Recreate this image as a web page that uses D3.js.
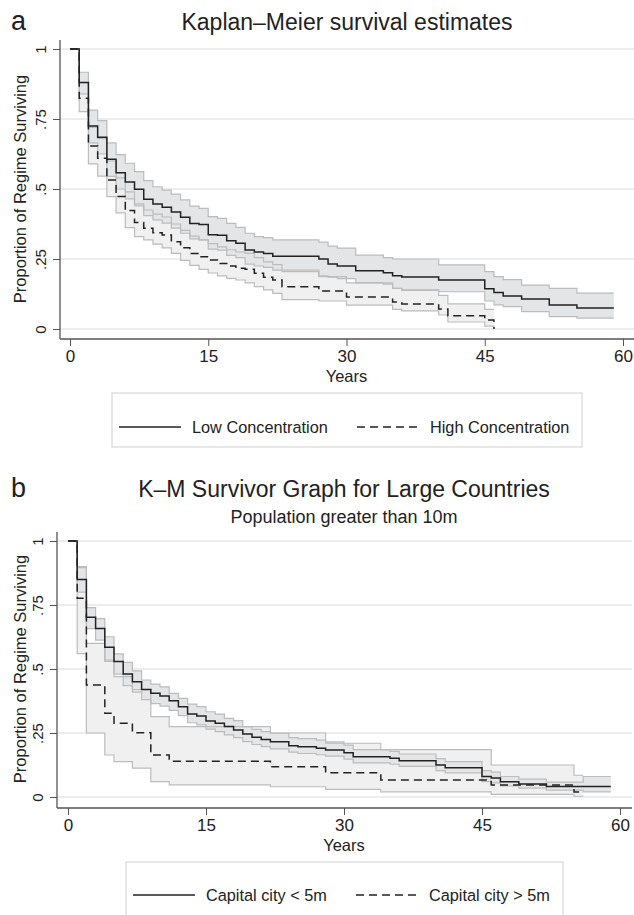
<!DOCTYPE html>
<html>
<head>
<meta charset="utf-8">
<script src="https://cdn.jsdelivr.net/npm/d3@7"></script>
<style>
  body { margin: 0; background: #fff; }
  text { font-family: "Liberation Sans", Arial, Helvetica, sans-serif; fill: #222; }
</style>
</head>
<body>
<script>
const W = 634, H = 915;

// ---- panel a : Kaplan-Meier, concentration ----
const aLowTime  = [0,1,2,3,4,5,6,7,8,9,10,11,12,13,14,15,16,17,18,19,20,21,22,27,28,29,31,34,35,36,40,45,46,47,49,52,55,59];
const aLowSurv  = [1,.88,.725,.685,.606,.558,.525,.499,.463,.446,.435,.418,.399,.377,.373,.337,.335,.315,.306,.282,.275,.27,.26,.25,.232,.225,.208,.201,.19,.186,.175,.144,.13,.118,.107,.086,.075,.075];
const aLowUpper = [1,.917,.782,.744,.665,.623,.592,.562,.53,.508,.496,.482,.461,.439,.431,.401,.395,.377,.363,.342,.33,.326,.318,.31,.296,.289,.264,.255,.25,.25,.229,.205,.187,.176,.157,.145,.128,.128];
const aLowLower = [1,.84,.665,.625,.545,.5,.465,.44,.405,.39,.378,.36,.342,.322,.318,.285,.282,.263,.255,.232,.225,.22,.21,.19,.185,.18,.165,.16,.145,.14,.133,.1,.086,.08,.062,.044,.039,.039];

const aHighTime  = [0,1,2,3,4,5,6,7,8,9,10,11,12,13,14,15,16,17,18,19,20,21,22,23,27,30,35,36,40,41,45,46];
const aHighSurv  = [1,.824,.654,.61,.532,.473,.423,.38,.36,.344,.336,.312,.29,.27,.258,.246,.234,.225,.217,.213,.199,.185,.175,.151,.136,.114,.096,.089,.071,.047,.032,0];
const aHighUpper = [1,.88,.72,.68,.6,.54,.49,.447,.425,.41,.4,.375,.352,.332,.318,.305,.293,.283,.275,.27,.255,.24,.23,.205,.187,.165,.145,.138,.12,.09,.07,.07];
const aHighLower = [1,.776,.59,.546,.473,.415,.362,.33,.318,.303,.29,.27,.245,.227,.213,.2,.19,.181,.175,.165,.151,.14,.127,.105,.1,.085,.07,.065,.05,.025,.01,0];

const aLegend = ["Low Concentration", "High Concentration"];

// ---- panel b : large countries ----
const bLowTime  = [0,1,2,3,4,5,6,7,8,9,10,11,12,13,14,15,16,17,18,19,20,21,22,24,25,27,28,30,31,35,36,40,41,45,46,47,49,52,56,59];
const bLowSurv  = [1,.85,.702,.658,.585,.529,.48,.45,.42,.405,.395,.376,.353,.324,.316,.297,.288,.275,.262,.246,.233,.225,.216,.2,.196,.19,.184,.173,.157,.151,.142,.125,.114,.08,.074,.06,.051,.041,.041,.041];
const bLowUpper = [1,.9,.74,.697,.626,.559,.526,.493,.457,.441,.43,.405,.385,.363,.353,.333,.324,.307,.298,.275,.264,.255,.249,.232,.228,.222,.215,.203,.185,.178,.168,.15,.138,.103,.097,.08,.07,.058,.08,.08];
const bLowLower = [1,.8,.658,.613,.535,.48,.435,.41,.38,.365,.355,.338,.318,.29,.282,.265,.255,.243,.232,.216,.205,.197,.188,.175,.17,.165,.16,.148,.133,.128,.12,.103,.094,.06,.055,.043,.035,.027,.02,.02];

const bHighTime  = [0,1,2,4,5,7,9,11,22,28,34,46,55,56];
const bHighSurv  = [1,.776,.4375,.327,.288,.251,.164,.14,.118,.095,.066,.047,.02,.02];
const bHighUpper = [1,.896,.6,.53,.47,.42,.314,.275,.25,.21,.185,.125,.085,.085];
const bHighLower = [1,.56,.25,.164,.138,.113,.06,.047,.04,.03,.02,.01,.003,.003];

const bLegend = ["Capital city < 5m", "Capital city > 5m"];

const xTicks = [0, 15, 30, 45, 60];
const yTicks = [0, .25, .5, .75, 1];

const svg = d3.select("body").append("svg")
  .attr("width", W)
  .attr("height", H);

function rows(t, s, u, l) {
  return t.map((d, i) => ({ t: d, s: s[i], u: u[i], l: l[i] }));
}

function fmtY(d) {
  if (d === 0) return "0";
  if (d === 1) return "1";
  return String(d).replace(/^0/, "");
}

function panel(p) {
  const x = d3.scaleLinear().domain([0, 60]).range([p.x0, p.x60]);
  const y = d3.scaleLinear().domain([0, 1]).range([p.y0, p.y1]);
  const g = svg.append("g");

  // grid
  g.selectAll(".grid").data(yTicks).enter().append("line")
    .attr("x1", p.axisX).attr("x2", p.right)
    .attr("y1", d => y(d)).attr("y2", d => y(d))
    .attr("stroke", "#dcdcdc").attr("stroke-width", 1.2);

  const area = d3.area().curve(d3.curveStepAfter)
    .x(d => x(d.t)).y0(d => y(d.l)).y1(d => y(d.u));
  const lineU = d3.line().curve(d3.curveStepAfter).x(d => x(d.t)).y(d => y(d.u));
  const lineL = d3.line().curve(d3.curveStepAfter).x(d => x(d.t)).y(d => y(d.l));
  const lineS = d3.line().curve(d3.curveStepAfter).x(d => x(d.t)).y(d => y(d.s));

  // bands: high first (light), low on top (darker)
  g.append("path").attr("d", area(p.high)).attr("fill", "#f0f0f0");
  g.append("path").attr("d", area(p.low)).attr("fill", "#e4e5e7");
  [p.high, p.low].forEach(r => {
    g.append("path").attr("d", lineU(r)).attr("fill", "none").attr("stroke", "#bcbcbc").attr("stroke-width", 1.2);
    g.append("path").attr("d", lineL(r)).attr("fill", "none").attr("stroke", "#bcbcbc").attr("stroke-width", 1.2);
  });

  g.append("path").attr("d", lineS(p.high)).attr("fill", "none")
    .attr("stroke", "#222").attr("stroke-width", 1.5).attr("stroke-dasharray", "8,5");
  g.append("path").attr("d", lineS(p.low)).attr("fill", "none")
    .attr("stroke", "#222").attr("stroke-width", 1.5);

  // axes
  g.append("line").attr("x1", p.axisX).attr("x2", p.axisX)
    .attr("y1", p.axisTop).attr("y2", p.axisY)
    .attr("stroke", "#555").attr("stroke-width", 1.3);
  g.append("line").attr("x1", p.axisX).attr("x2", p.right)
    .attr("y1", p.axisY).attr("y2", p.axisY)
    .attr("stroke", "#555").attr("stroke-width", 1.3);

  const ya = g.append("g").attr("transform", `translate(${p.axisX},0)`)
    .call(d3.axisLeft(y).tickValues(yTicks).tickSize(7).tickFormat(fmtY));
  ya.select(".domain").remove();
  ya.selectAll("line").attr("stroke", "#555");
  ya.selectAll("text")
    .attr("x", 0).attr("y", -14).attr("dy", 0)
    .attr("text-anchor", "middle")
    .attr("transform", "rotate(-90)")
    .style("font-size", "15px")
    .style("font-family", "'Liberation Sans', Arial, sans-serif")
    .attr("fill", "#222");

  const xa = g.append("g").attr("transform", `translate(0,${p.axisY})`)
    .call(d3.axisBottom(x).tickValues(xTicks).tickSize(7).tickPadding(4));
  xa.select(".domain").remove();
  xa.selectAll("line").attr("stroke", "#555");
  xa.selectAll("text")
    .style("font-size", "17px")
    .style("font-family", "'Liberation Sans', Arial, sans-serif")
    .attr("fill", "#222");

  g.append("text").attr("x", x(30)).attr("y", p.axisY + 43)
    .attr("text-anchor", "middle").style("font-size", "16.5px").text("Years");
  g.append("text")
    .attr("transform", `translate(26,${(p.y0 + p.y1) / 2}) rotate(-90)`)
    .attr("text-anchor", "middle").style("font-size", "16.5px")
    .text("Proportion of Regime Surviving");

  // titles
  g.append("text").attr("x", 11).attr("y", p.titleY)
    .style("font-size", "27px").text(p.letter);
  g.append("text").attr("x", p.titleX).attr("y", p.titleY)
    .attr("text-anchor", "middle").style("font-size", "23px").text(p.title);
  if (p.subtitle) {
    g.append("text").attr("x", p.titleX).attr("y", p.subY)
      .attr("text-anchor", "middle").style("font-size", "18px").text(p.subtitle);
  }

  // legend
  const lg = p.legend;
  g.append("rect").attr("x", lg.x).attr("y", lg.y).attr("width", lg.w).attr("height", lg.h)
    .attr("fill", "none").attr("stroke", "#d8d8d8").attr("stroke-width", 1.2);
  lg.items.forEach((name, i) => {
    const lx = lg.keyX[i];
    g.append("line").attr("x1", lx).attr("x2", lx + 62)
      .attr("y1", lg.cy).attr("y2", lg.cy)
      .attr("stroke", "#222").attr("stroke-width", 1.4)
      .attr("stroke-dasharray", i === 1 ? "8,5" : null);
    g.append("text").attr("x", lx + 73).attr("y", lg.cy + 6)
      .style("font-size", "16.3px").text(name);
  });
}

panel({
  letter: "a", title: "Kaplan\u2013Meier survival estimates", titleX: 347, titleY: 30,
  x0: 70, x60: 623, y0: 329, y1: 49,
  axisX: 60, axisY: 339, axisTop: 40, right: 634,
  low: rows(aLowTime, aLowSurv, aLowUpper, aLowLower),
  high: rows(aHighTime, aHighSurv, aHighUpper, aHighLower),
  legend: { x: 112, y: 393, w: 470, h: 54, cy: 427, keyX: [119, 357], items: aLegend }
});

panel({
  letter: "b", title: "K\u2013M Survivor Graph for Large Countries", subtitle: "Population greater than 10m",
  titleX: 344, titleY: 497, subY: 523,
  x0: 68, x60: 620, y0: 797, y1: 541,
  axisX: 57, axisY: 808, axisTop: 532, right: 632,
  low: rows(bLowTime, bLowSurv, bLowUpper, bLowLower),
  high: rows(bHighTime, bHighSurv, bHighUpper, bHighLower),
  legend: { x: 126, y: 862, w: 437, h: 70, cy: 895, keyX: [133, 356], items: bLegend }
});
</script>
</body>
</html>
